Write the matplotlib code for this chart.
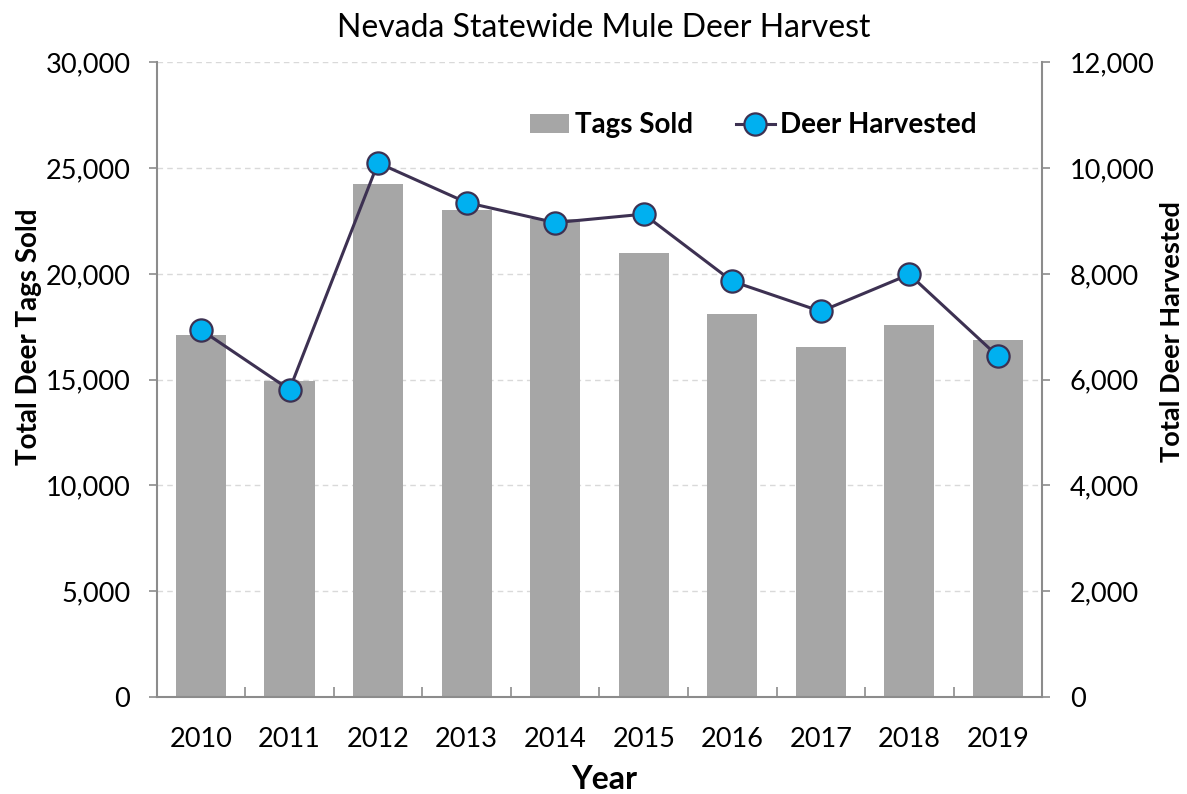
import numpy as np
import matplotlib.pyplot as plt
from matplotlib.ticker import FuncFormatter, FixedLocator

plt.rcParams['font.family'] = ['Lato', 'DejaVu Sans']

# data
years = ['2010', '2011', '2012', '2013', '2014', '2015', '2016', '2017', '2018', '2019']
tags_sold = [17100, 14950, 24250, 23000, 22600, 21000, 18100, 16550, 17600, 16850]
deer_harvested = [6940, 5810, 10100, 9350, 8970, 9130, 7860, 7290, 7990, 6440]

x = np.arange(len(years))
spine_col = '#8C8C8C'
fmt = FuncFormatter(lambda v, p: '{:,.0f}'.format(v))

fig = plt.figure(figsize=(11.87, 7.94), dpi=100)
ax = fig.add_axes([0.132, 0.1226, 0.746, 0.7987])
ax2 = ax.twinx()

# bars (left axis)
bars = ax.bar(x, tags_sold, width=0.566, color='#A6A6A6', zorder=2)
ax.set_xlim(-0.5, len(years) - 0.5)
ax.set_ylim(0, 30000)
ax.set_yticks(np.arange(0, 30001, 5000))
ax.yaxis.set_major_formatter(fmt)
ax.grid(axis='y', color='#D9D9D9', linestyle=(0, (4, 3)), linewidth=1.0, zorder=0)
ax.set_axisbelow(True)

ax.set_xticks(x)
ax.set_xticklabels(years, fontsize=19.5)
ax.xaxis.set_minor_locator(FixedLocator(x[:-1] + 0.5))
ax.tick_params(axis='x', which='major', length=0, pad=22)
ax.tick_params(axis='x', which='minor', direction='in', length=7, color=spine_col, width=1.2)
ax.tick_params(axis='y', direction='out', length=6, color=spine_col, width=1.2, labelsize=19.5, pad=13)

for s in ['top', 'right']:
    ax.spines[s].set_visible(False)
for s in ['left', 'bottom']:
    ax.spines[s].set_color(spine_col)
    ax.spines[s].set_linewidth(1.5)

# line (right axis)
line, = ax2.plot(x, deer_harvested, color='#3D3152', linewidth=2.2, marker='o',
                 markersize=16, markerfacecolor='#00B0F0', markeredgecolor='#3D3152',
                 markeredgewidth=1.6, zorder=3)
ax2.set_ylim(0, 12000)
ax2.set_yticks(np.arange(0, 12001, 2000))
ax2.yaxis.set_major_formatter(fmt)
ax2.tick_params(axis='y', direction='out', length=6, color=spine_col, width=1.2, labelsize=19.5, pad=14)
for s in ['top', 'left', 'bottom']:
    ax2.spines[s].set_visible(False)
ax2.spines['right'].set_color(spine_col)
ax2.spines['right'].set_linewidth(1.5)

ax.set_ylabel('Total Deer Tags Sold', fontsize=20, fontweight='bold')
ax.yaxis.set_label_coords(-0.1295, 0.568)
ax2.set_ylabel('Total Deer Harvested', fontsize=19.5, fontweight='bold')
ax2.yaxis.set_label_coords(1.1325, 0.575)
ax.set_xlabel('Year', fontsize=23, fontweight='bold')
ax.xaxis.set_label_coords(0.505, -0.108)
fig.text(0.509, 0.965, 'Nevada Statewide Mule Deer Harvest', fontsize=23,
         ha='center', va='center')

leg = ax2.legend([bars, line], ['Tags Sold', 'Deer Harvested'], loc='center',
                 bbox_to_anchor=(0.674, 0.901), ncol=2, frameon=False,
                 prop={'size': 20, 'weight': 'bold'}, handlelength=1.4,
                 handletextpad=0.2, columnspacing=1.55)

fig.savefig('out.png', dpi=100)
